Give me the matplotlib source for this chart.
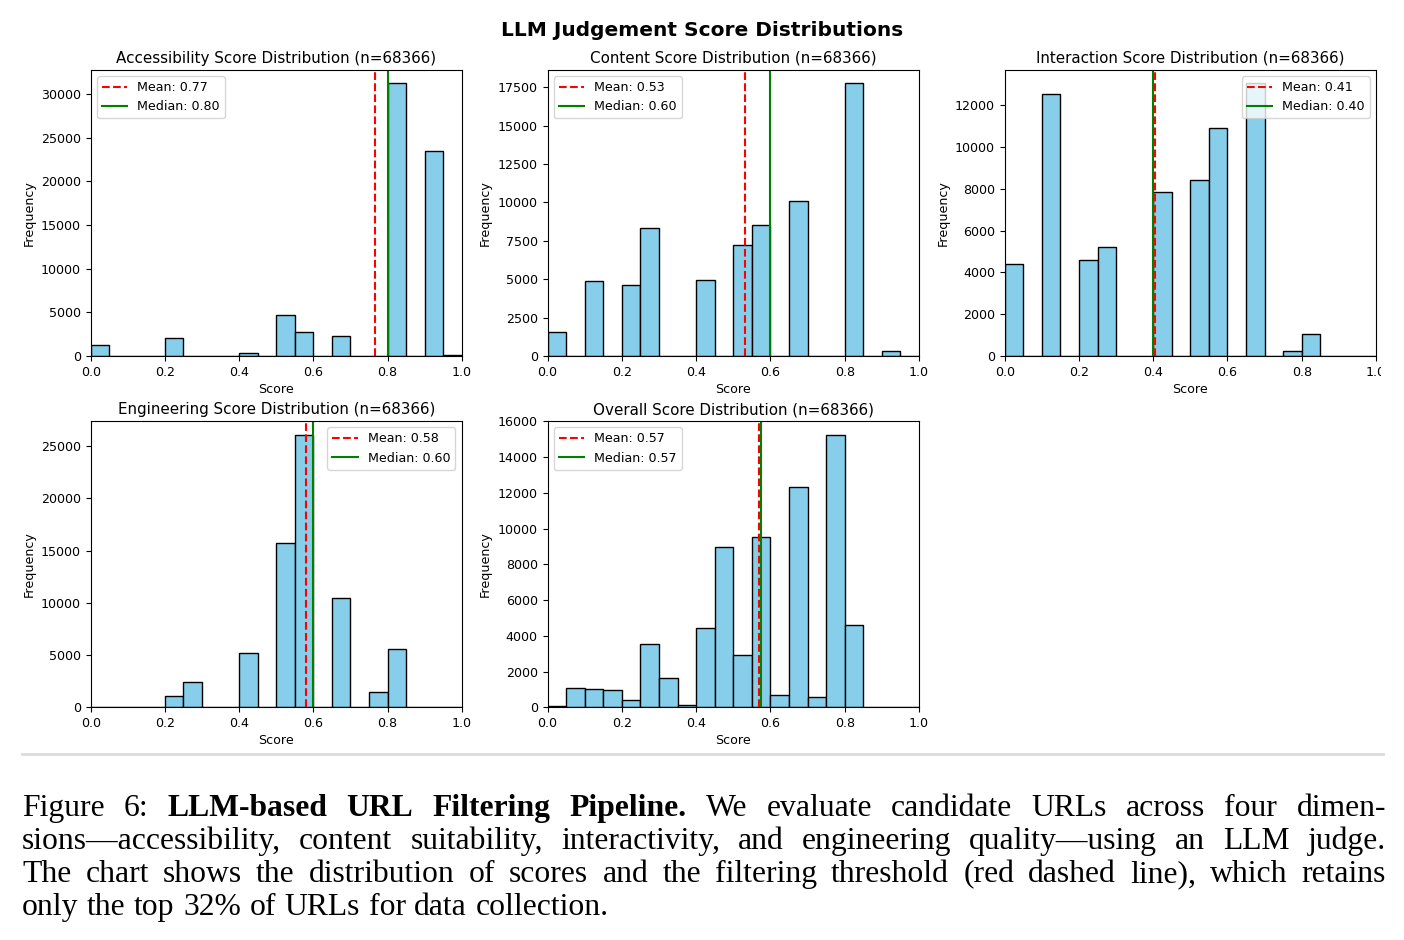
import numpy as np
import matplotlib
matplotlib.use('Agg')
import matplotlib.pyplot as plt
from matplotlib.lines import Line2D
from matplotlib.patches import Rectangle

plt.rcParams['font.size'] = 9.1

N = 68366
bin_edges = np.linspace(0, 1, 21)

# bar heights per 0.05-wide bin
accessibility = [1300, 0, 50, 0, 2100, 30, 0, 0, 400, 0,
                 4700, 2750, 0, 2250, 0, 0, 31200, 0, 23500, 150]
content = [1550, 0, 4900, 0, 4600, 8300, 0, 0, 4950, 0,
           7250, 8550, 0, 10100, 0, 0, 17750, 0, 300, 0]
interaction = [4400, 0, 12550, 0, 4600, 5200, 0, 0, 7850, 0,
               8400, 10900, 0, 13050, 0, 250, 1050, 0, 20, 0]
engineering = [50, 0, 0, 0, 1100, 2400, 0, 0, 5150, 0,
               15700, 26100, 0, 10500, 0, 1500, 5600, 0, 0, 0]
overall = [50, 1100, 1000, 980, 420, 3550, 1650, 150, 4450, 8950,
           2900, 9500, 700, 12300, 600, 15250, 4600, 0, 0, 0]

names = ['Accessibility', 'Content', 'Interaction', 'Engineering', 'Overall']
counts = [accessibility, content, interaction, engineering, overall]
means = [0.766, 0.531, 0.406, 0.580, 0.570]
medians = [0.80, 0.60, 0.40, 0.60, 0.574]
legend_locs = ['upper left', 'upper left', 'upper right', 'upper right', 'upper left']

caption_lines = [
    [("Figure 6:", 'normal'), ("LLM-based URL Filtering Pipeline.", 'bold'),
     ("We evaluate candidate URLs across four dimen-", 'normal')],
    [("sions—accessibility, content suitability, interactivity, and engineering quality—using an LLM judge.", 'normal')],
    [("The chart shows the distribution of scores and the filtering threshold (red dashed line), which retains", 'normal')],
    [("only the top 32% of URLs for data collection.", 'normal')],
]

W, H = 1404, 940
fig = plt.figure(figsize=(W / 100, H / 100), dpi=100)

# axes boxes in pixels: left, top, right, bottom
boxes = [(90.7, 69.7, 461.7, 356), (547.5, 69.7, 919, 356), (1004.7, 69.7, 1376, 356),
         (90.7, 421, 461.7, 707.3), (547.5, 421, 919, 707.3)]

centers = (bin_edges[:-1] + bin_edges[1:]) / 2
for name, c, mu, md, loc, (l, t, r, b) in zip(names, counts, means, medians, legend_locs, boxes):
    ax = fig.add_axes([l / W, 1 - b / H, (r - l) / W, (b - t) / H])
    ax.hist(centers, bins=bin_edges, weights=c, color='skyblue', edgecolor='black', linewidth=1.0)
    ax.axvline(mu, color='red', linestyle='--', linewidth=1.5, label=f'Mean: {mu:.2f}')
    ax.axvline(md, color='green', linestyle='-', linewidth=1.5, label=f'Median: {md:.2f}')
    ax.set_xlim(0, 1)
    ax.set_title(f'{name} Score Distribution (n={N})', fontsize=10.9, pad=5)
    ax.set_xlabel('Score', labelpad=3)
    ax.set_ylabel('Frequency', labelpad=4)
    ax.legend(loc=loc)

fig.text(0.5, 1 - 31 / H, 'LLM Judgement Score Distributions', ha='center', va='center',
         fontsize=14.5, fontweight='bold')

# the embedded chart image was cropped on the right, cutting the last tick label
fig.add_artist(Rectangle((1381 / W, 1 - 400 / H), 23 / W, 360 / H, transform=fig.transFigure,
                         facecolor='white', edgecolor='none', zorder=10))

# separator rule
fig.add_artist(Line2D([22 / W, 1383 / W], [1 - 754 / H] * 2, color='#dcdcdc', linewidth=2))

# caption, justified by hand
renderer = fig.canvas.get_renderer()
cap_left, cap_right = 22, 1386
baselines = [816, 849, 882, 915]
cap_font = dict(family='Liberation Serif', fontsize=22.8)
for i, (line, base) in enumerate(zip(caption_lines, baselines)):
    words = []
    for chunk, weight in line:
        for w in chunk.split(' '):
            words.append((w, weight))
    texts = [fig.text(0, 1 - base / H, w, fontweight=wt, va='baseline', **cap_font) for w, wt in words]
    widths = [t.get_window_extent(renderer).width for t in texts]
    if i < len(caption_lines) - 1:
        gap = (cap_right - cap_left - sum(widths)) / (len(words) - 1)
    else:
        gap = 0.27 * cap_font['fontsize'] * 100 / 72
    x = cap_left
    for t, w in zip(texts, widths):
        t.set_x(x / W)
        x += w + gap

fig.savefig('out.png', dpi=100)
